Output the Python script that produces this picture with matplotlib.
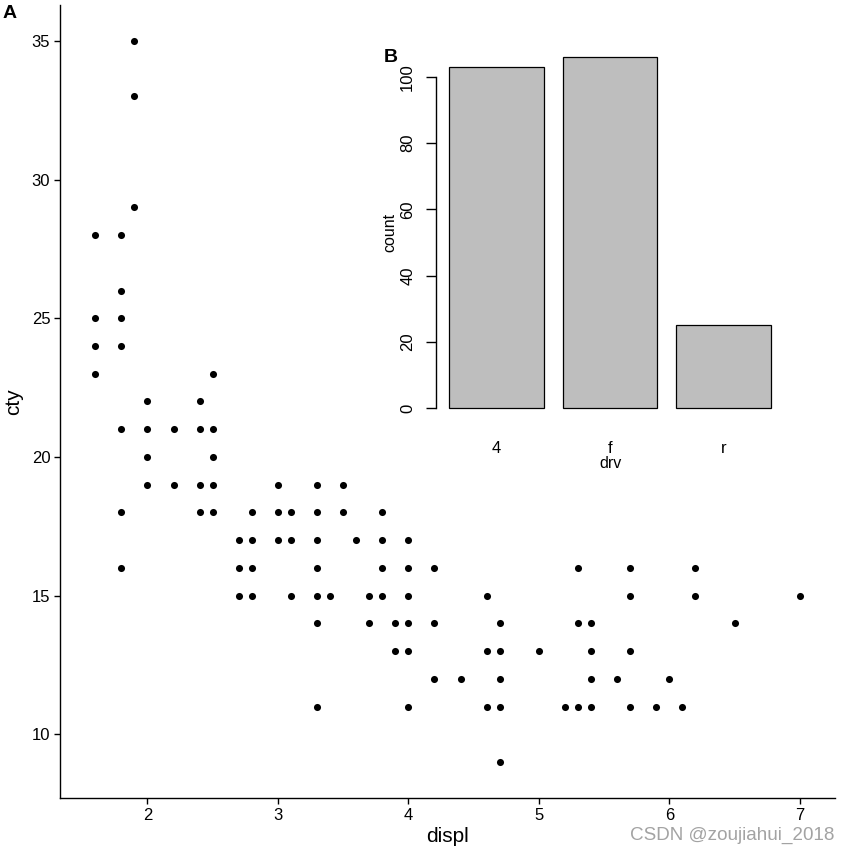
import matplotlib.pyplot as plt

plt.rcParams["font.family"] = ["Liberation Sans", "DejaVu Sans"]

# scatter points (displ -> list of cty values)
cty_by_displ = {
    1.6: [28, 25, 24, 23],
    1.8: [28, 26, 25, 24, 21, 18, 16],
    1.9: [35, 33, 29],
    2.0: [22, 21, 20, 19],
    2.2: [21, 19],
    2.4: [22, 21, 19, 18],
    2.5: [23, 21, 20, 19, 18],
    2.7: [17, 16, 15],
    2.8: [18, 17, 16, 15],
    3.0: [19, 18, 17],
    3.1: [18, 17, 15],
    3.3: [19, 18, 17, 16, 15, 14, 11],
    3.4: [15],
    3.5: [19, 18],
    3.6: [17],
    3.7: [15, 14],
    3.8: [18, 17, 16, 15],
    3.9: [14, 13],
    4.0: [17, 16, 15, 14, 13, 11],
    4.2: [16, 14, 12],
    4.4: [12],
    4.6: [15, 13, 11],
    4.7: [14, 13, 12, 11, 9],
    5.0: [13],
    5.2: [11],
    5.3: [16, 14, 11],
    5.4: [14, 13, 12, 11],
    5.6: [12],
    5.7: [16, 15, 13, 11],
    5.9: [11],
    6.0: [12],
    6.1: [11],
    6.2: [16, 15],
    6.5: [14],
    7.0: [15],
}
displ = [d for d, vals in cty_by_displ.items() for _ in vals]
cty = [c for vals in cty_by_displ.values() for c in vals]

drv = ["4", "f", "r"]
drv_count = [103, 106, 25]

W, H = 849, 855
fig = plt.figure(figsize=(W / 100, H / 100), dpi=100)

# main scatter (panel A)
ax = fig.add_axes([60 / W, 1 - 798 / H, 775 / W, 793 / H])
ax.scatter(displ, cty, s=26, color="black", linewidths=0)
ax.set_xticks([2, 3, 4, 5, 6, 7])
ax.set_yticks([10, 15, 20, 25, 30, 35])
ax.spines[["top", "right"]].set_visible(False)
for s in ("left", "bottom"):
    ax.spines[s].set_linewidth(1.0)
ax.tick_params(length=4, width=1.0, labelsize=12, pad=3)
ax.set_xlabel("displ", fontsize=15, labelpad=3)
ax.set_ylabel("cty", fontsize=15, labelpad=6)

# inset barplot (panel B), base-R style
pos = [0.7 + 1.2 * i for i in range(len(drv))]
ib = fig.add_axes([436 / W, 1 - 422 / H, 348 / W, 379 / H])
ib.patch.set_alpha(0)
ib.bar(pos, drv_count, width=1.0, color="#BEBEBE", edgecolor="black", linewidth=0.9)
lo, hi = pos[0] - 0.5, pos[-1] + 0.5
pad = 0.04 * (hi - lo)
ib.set_xlim(lo - pad, hi + pad)
ymax = max(drv_count)
ib.set_ylim(-0.04 * ymax, ymax * 1.04)
for s in ("top", "right", "bottom"):
    ib.spines[s].set_visible(False)
ib.spines["left"].set_bounds(0, 100)
ib.spines["left"].set_linewidth(1.0)
ib.set_yticks([0, 20, 40, 60, 80, 100])
ib.tick_params(axis="y", length=7, width=1.0, labelsize=12, pad=8)
for lab in ib.get_yticklabels():
    lab.set_rotation(90)
    lab.set_va("center")
ib.set_xticks(pos)
ib.set_xticklabels(drv)
ib.tick_params(axis="x", length=0, labelsize=12, pad=14)
ib.set_xlabel("drv", fontsize=11.5, labelpad=0)
ib.set_ylabel("count", fontsize=11.5, labelpad=2)

fig.text(3 / W, 1 - 14 / H, "A", fontsize=14, fontweight="bold", va="center", ha="left")
fig.text(384 / W, 1 - 57 / H, "B", fontsize=14, fontweight="bold", va="center", ha="left")
fig.text(834 / W, 1 - 835 / H, "CSDN @zoujiahui_2018", fontsize=13.6, color="#a3a3a3",
         ha="right", va="center")

fig.savefig("out.png", dpi=100)
